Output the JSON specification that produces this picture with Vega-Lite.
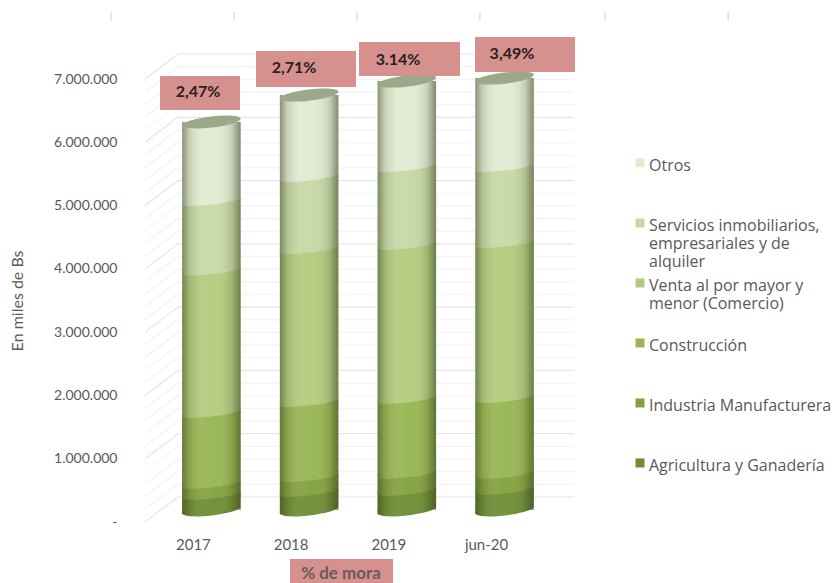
{
"$schema":"https://vega.github.io/schema/vega-lite/v6.json",
"width":429,"height":443,
"autosize":"none",
"padding":{"left":145,"top":79,"right":263,"bottom":61},
"background":"white",
"config":{"view":{"stroke":null},"font":"Lato","style":{"guide-label":{"lineHeight":18}}},
"datasets":{
"sectors":[
{"year":"2017","sector":"Agricultura y Ganadería","order":1,"value":237000},
{"year":"2017","sector":"Industria Manufacturera","order":2,"value":174000},
{"year":"2017","sector":"Construcción","order":3,"value":1120000},
{"year":"2017","sector":"Venta al por mayor y menor (Comercio)","order":4,"value":2250000},
{"year":"2017","sector":"Servicios inmobiliarios, empresariales y de alquiler","order":5,"value":1100000},
{"year":"2017","sector":"Otros","order":6,"value":1250000},
{"year":"2018","sector":"Agricultura y Ganadería","order":1,"value":284000},
{"year":"2018","sector":"Industria Manufacturera","order":2,"value":237000},
{"year":"2018","sector":"Construcción","order":3,"value":1185000},
{"year":"2018","sector":"Venta al por mayor y menor (Comercio)","order":4,"value":2417000},
{"year":"2018","sector":"Servicios inmobiliarios, empresariales y de alquiler","order":5,"value":1137000},
{"year":"2018","sector":"Otros","order":6,"value":1296000},
{"year":"2019","sector":"Agricultura y Ganadería","order":1,"value":300000},
{"year":"2019","sector":"Industria Manufacturera","order":2,"value":269000},
{"year":"2019","sector":"Construcción","order":3,"value":1185000},
{"year":"2019","sector":"Venta al por mayor y menor (Comercio)","order":4,"value":2432000},
{"year":"2019","sector":"Servicios inmobiliarios, empresariales y de alquiler","order":5,"value":1233000},
{"year":"2019","sector":"Otros","order":6,"value":1358000},
{"year":"jun-20","sector":"Agricultura y Ganadería","order":1,"value":316000},
{"year":"jun-20","sector":"Industria Manufacturera","order":2,"value":253000},
{"year":"jun-20","sector":"Construcción","order":3,"value":1200000},
{"year":"jun-20","sector":"Venta al por mayor y menor (Comercio)","order":4,"value":2449000},
{"year":"jun-20","sector":"Servicios inmobiliarios, empresariales y de alquiler","order":5,"value":1201000},
{"year":"jun-20","sector":"Otros","order":6,"value":1406000}
],
"grid":[
{"v":0,"back":395000,"kind":"major"},{"v":200000,"back":595000,"kind":"minor"},{"v":400000,"back":795000,"kind":"minor"},{"v":600000,"back":995000,"kind":"minor"},{"v":800000,"back":1195000,"kind":"minor"},
{"v":1000000,"back":1395000,"kind":"major"},{"v":1200000,"back":1595000,"kind":"minor"},{"v":1400000,"back":1795000,"kind":"minor"},{"v":1600000,"back":1995000,"kind":"minor"},{"v":1800000,"back":2195000,"kind":"minor"},
{"v":2000000,"back":2395000,"kind":"major"},{"v":2200000,"back":2595000,"kind":"minor"},{"v":2400000,"back":2795000,"kind":"minor"},{"v":2600000,"back":2995000,"kind":"minor"},{"v":2800000,"back":3195000,"kind":"minor"},
{"v":3000000,"back":3395000,"kind":"major"},{"v":3200000,"back":3595000,"kind":"minor"},{"v":3400000,"back":3795000,"kind":"minor"},{"v":3600000,"back":3995000,"kind":"minor"},{"v":3800000,"back":4195000,"kind":"minor"},
{"v":4000000,"back":4395000,"kind":"major"},{"v":4200000,"back":4595000,"kind":"minor"},{"v":4400000,"back":4795000,"kind":"minor"},{"v":4600000,"back":4995000,"kind":"minor"},{"v":4800000,"back":5195000,"kind":"minor"},
{"v":5000000,"back":5395000,"kind":"major"},{"v":5200000,"back":5595000,"kind":"minor"},{"v":5400000,"back":5795000,"kind":"minor"},{"v":5600000,"back":5995000,"kind":"minor"},{"v":5800000,"back":6195000,"kind":"minor"},
{"v":6000000,"back":6395000,"kind":"major"},{"v":6200000,"back":6595000,"kind":"minor"},{"v":6400000,"back":6795000,"kind":"minor"},{"v":6600000,"back":6995000,"kind":"minor"},{"v":6800000,"back":7195000,"kind":"minor"},
{"v":7000000,"back":7395000,"kind":"major"}
],
"mora":[
{"label":"2,47%","xa":0.455,"xb":2.879,"ya":7047000,"yb":6510000,"xt":1.606,"yt":6794000},
{"label":"2,71%","xa":3.364,"xb":6.394,"ya":7442000,"yb":6873000,"xt":4.515,"yt":7174000},
{"label":"3.14%","xa":6.485,"xb":9.545,"ya":7584000,"yb":7047000,"xt":7.667,"yt":7300000},
{"label":"3,49%","xa":10,"xb":13.03,"ya":7664000,"yb":7110000,"xt":11.12,"yt":7395000}
],
"moraTitle":[{"label":"% de mora","xa":4.394,"xb":7.515,"ya":-585000,"yb":-964000,"xt":5.94,"yt":-820000}],
"ticksTop":[
{"x":-1.03,"ya":8060000,"yb":7916000},{"x":2.697,"ya":8060000,"yb":7916000},{"x":6.42,"ya":8060000,"yb":7916000},
{"x":10.15,"ya":8060000,"yb":7916000},{"x":13.94,"ya":8060000,"yb":7916000},{"x":17.67,"ya":8060000,"yb":7916000}
]
},
"resolve":{"scale":{"x":"independent"}},
"layer":[
{"layer":[
 {"data":{"name":"grid"},"mark":{"type":"rule","strokeWidth":1.2},
  "encoding":{"x":{"datum":0,"type":"quantitative","scale":{"domain":[0,13]},"axis":null},"x2":{"datum":1},
   "y":{"field":"v","type":"quantitative","scale":{"domain":[0,7000000],"nice":false},
     "axis":{"title":"En miles de Bs","titleFontSize":16,"titleFontWeight":"normal","titleColor":"#595959","titlePadding":28,"values":[0,1000000,2000000,3000000,4000000,5000000,6000000,7000000],"labelExpr":"datum.value==0?'-':replace(format(datum.value,','),/,/g,'.')","labelFontSize":14,"labelColor":"#595959","labelPadding":28,"domain":false,"ticks":false,"grid":false}},
   "y2":{"field":"back"},
   "stroke":{"field":"kind","type":"nominal","scale":{"domain":["major","minor"],"range":["#e6e6e6","#f3f3f3"]},"legend":null}}},
 {"data":{"name":"grid"},"mark":{"type":"rule","yOffset":-25,"strokeWidth":1.2},
  "encoding":{"x":{"datum":1,"type":"quantitative"},"x2":{"datum":13},
   "y":{"field":"v","type":"quantitative"},
   "stroke":{"field":"kind","type":"nominal","legend":null}}},
 {"data":{"name":"ticksTop"},"mark":{"type":"rule","stroke":"#cfcfcf"},
  "encoding":{"x":{"field":"x","type":"quantitative"},"y":{"field":"ya","type":"quantitative"},"y2":{"field":"yb"}}}
]},
{"data":{"name":"sectors"},
 "transform":[{"stack":"value","groupby":["year"],"sort":[{"field":"order","order":"ascending"}],"as":["y0","y1"]}],
 "encoding":{"x":{"field":"year","type":"nominal","scale":{"domain":["2017","2018","2019","jun-20"],"paddingInner":0,"paddingOuter":0.195,"align":0.46},
   "axis":{"orient":"bottom","title":null,"labelAngle":0,"labelOffset":-18,"labelFontSize":15,"labelColor":"#595959","labelPadding":15,"domain":false,"ticks":false,"grid":false}}},
 "layer":[
 {"mark":{"type":"bar","size":58.5,"yOffset":-12,"y2Offset":-12,"stroke":null},
  "encoding":{"y":{"field":"y1","type":"quantitative"},"y2":{"field":"y0"},
   "fill":{"field":"sector","type":"nominal","scale":{
     "domain":["Otros","Servicios inmobiliarios, empresariales y de alquiler","Venta al por mayor y menor (Comercio)","Construcción","Industria Manufacturera","Agricultura y Ganadería"],
     "range":["#e2ead2","#c8d8a6","#b2cc7e","#98b653","#84a23f","#6f8d35"]},
     "legend":{"title":null,"orient":"none","legendX":487,"legendY":71,"symbolType":"M-1,.1L1,.1L1,2.1L-1,2.1Z","symbolSize":81,"symbolStrokeWidth":0,"labelFont":"Open Sans","labelFontSize":16,"labelColor":"#595959","labelLimit":220,"labelOffset":1,"gridAlign":"all","rowPadding":0,"labelBaseline":"top",
       "labelExpr":"datum.label=='Servicios inmobiliarios, empresariales y de alquiler'?['Servicios inmobiliarios,','empresariales y de','alquiler']:datum.label=='Venta al por mayor y menor (Comercio)'?['Venta al por mayor y','menor (Comercio)']:datum.label"}}}},
 {"mark":{"type":"point","filled":true,"opacity":1,"size":3422,"yOffset":-12,"shape":"M-1,0L-1,.115C-1,.181 -.552,.184 0,.12C.3,.09 .55,.05 .72,0Z"},
  "encoding":{"y":{"field":"y0","type":"quantitative"},"fill":{"field":"sector","type":"nominal"}}},
 {"transform":[{"filter":"datum.order==1"}],"mark":{"type":"point","filled":true,"opacity":1,"size":3422,"yOffset":-12,"shape":"M-1,0L-1,.115C-1,.22 -.552,.253 0,.19C.4,.14 .7,.06 .855,0Z"},
  "encoding":{"y":{"field":"y0","type":"quantitative"},"fill":{"field":"sector","type":"nominal"}}},
 {"transform":[{"filter":"datum.order<6"}],"mark":{"type":"point","filled":true,"opacity":1,"size":3422,"yOffset":-12,"shape":"M.72,0C.85,-.04 1,-.08 1,-.115L1,0Z"},
  "encoding":{"y":{"field":"y1","type":"quantitative"},"fill":{"field":"sector","type":"nominal"}}},
 {"transform":[{"filter":"datum.order==1"}],"mark":{"type":"point","filled":true,"opacity":1,"size":3422,"yOffset":-12,"color":"white","shape":"M.855,0C.93,-.03 1,-.07 1,-.115L1,0Z"},
  "encoding":{"y":{"field":"y0","type":"quantitative"}}},
 {"transform":[{"filter":"datum.order==6"}],"mark":{"type":"bar","size":58.5,"yOffset":-12,"y2Offset":-12,"stroke":null,
    "color":{"gradient":"linear","x1":0,"x2":1,"y1":0,"y2":0,"stops":[{"offset":0,"color":"rgba(50,60,30,0.5)"},{"offset":0.12,"color":"rgba(50,60,30,0.16)"},{"offset":0.35,"color":"rgba(255,255,255,0.06)"},{"offset":0.6,"color":"rgba(255,255,255,0.03)"},{"offset":0.85,"color":"rgba(50,60,30,0.16)"},{"offset":1,"color":"rgba(50,60,30,0.55)"}]}},
  "encoding":{"y":{"field":"y1","type":"quantitative"},"y2":{"datum":0}}},
 {"transform":[{"filter":"datum.order==1"}],"mark":{"type":"point","filled":true,"opacity":1,"size":3422,"yOffset":-12,"shape":"M-1,0L-1,.115C-1,.22 -.552,.253 0,.19C.4,.14 .7,.06 .855,0L1,0Z",
    "color":{"gradient":"linear","x1":0,"x2":1,"y1":0,"y2":0,"stops":[{"offset":0,"color":"rgba(50,60,30,0.5)"},{"offset":0.12,"color":"rgba(50,60,30,0.16)"},{"offset":0.35,"color":"rgba(255,255,255,0.06)"},{"offset":0.6,"color":"rgba(255,255,255,0.03)"},{"offset":0.85,"color":"rgba(50,60,30,0.16)"},{"offset":1,"color":"rgba(50,60,30,0.55)"}]}},
  "encoding":{"y":{"field":"y0","type":"quantitative"}}},
 {"transform":[{"filter":"datum.order==6"}],"mark":{"type":"point","filled":true,"opacity":1,"size":3422,"yOffset":-12,"color":"#99a98a","shape":"M-1,.115C-1,.01 -.552,-.127 0,-.19C.552,-.253 1,-.22 1,-.115C1,-.01 .552,.127 0,.19C-.552,.253 -1,.22 -1,.115Z"},
  "encoding":{"y":{"field":"y1","type":"quantitative"}}}
 ]},
{"layer":[
 {"data":{"name":"mora"},"mark":{"type":"rect","color":"#d6918f"},
  "encoding":{"x":{"field":"xa","type":"quantitative","scale":{"domain":[0,13]},"axis":null},"x2":{"field":"xb"},"y":{"field":"ya","type":"quantitative"},"y2":{"field":"yb"}}},
 {"data":{"name":"mora"},"mark":{"type":"text","fontWeight":"bold","fontSize":16,"color":"#2b2020"},
  "encoding":{"x":{"field":"xt","type":"quantitative"},"y":{"field":"yt","type":"quantitative"},"text":{"field":"label"}}},
 {"data":{"name":"moraTitle"},"mark":{"type":"rect","color":"#d6918f"},
  "encoding":{"x":{"field":"xa","type":"quantitative"},"x2":{"field":"xb"},"y":{"field":"ya","type":"quantitative"},"y2":{"field":"yb"}}},
 {"data":{"name":"moraTitle"},"mark":{"type":"text","fontWeight":"bold","fontSize":17,"color":"#6a5a5a"},
  "encoding":{"x":{"field":"xt","type":"quantitative"},"y":{"field":"yt","type":"quantitative"},"text":{"field":"label"}}}
]}
]
}
